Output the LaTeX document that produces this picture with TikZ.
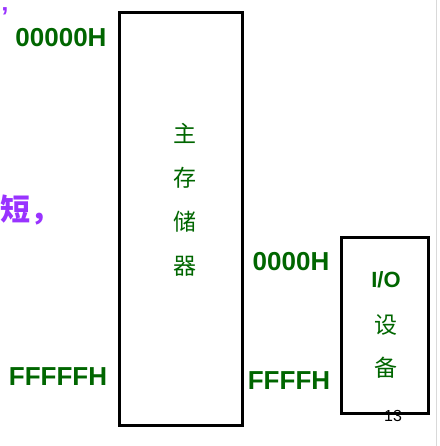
\documentclass[tikz,border=0pt]{standalone}
\usepackage{fontspec}
\setmainfont{Liberation Sans}
\newfontfamily\cjk{Noto Sans CJK SC}
\definecolor{dg}{HTML}{006600}
\definecolor{pu}{HTML}{9933FF}
\begin{document}
\begin{tikzpicture}[x=1pt,y=-1pt,
  box/.style={draw=black,line width=3pt},
  addr/.style={text=dg,font=\fontsize{26}{28}\selectfont\bfseries,inner sep=0pt},
  hz/.style={text=dg,font=\cjk\fontsize{23}{24}\selectfont,inner sep=0pt},
  pur/.style={text=pu,font=\cjk\fontsize{30}{32}\selectfont\bfseries,inner sep=0pt}]
\useasboundingbox (0,0) rectangle (439,446);
\fill[white] (0,0) rectangle (439,446);
\draw[gray!30,line width=1pt] (436,0) -- (436,446);
\draw[box] (119,13) rectangle (242,425);
\draw[box] (341,237) rectangle (428,413);
\node[addr] (a1) at (61,38) {00000H};
\node[addr] (a2) at (58,377) {FFFFFH};
\node[addr] (a3) at (291,262) {0000H};
\node[addr] (a4) at (289,381) {FFFFH};
\node[hz] (m1) at (185,133) {主};
\node[hz] (m2) at (185,178) {存};
\node[hz] (m3) at (185,222) {储};
\node[hz] (m4) at (185,266) {器};
\node[addr,font=\fontsize{22}{24}\selectfont\bfseries] (io) at (386,280) {I/O};
\node[hz] (i1) at (386,325) {设};
\node[hz] (i2) at (386,368) {备};
\node[pur] (p1) at (30,210) {短，};
\node[text=pu,font=\fontsize{26}{26}\selectfont\bfseries,inner sep=0pt,text height=10pt,text depth=0pt] (p0) at (5,21) {’};
\node[text=black,font=\fontsize{16}{17}\selectfont,inner sep=0pt] (pg) at (393,416) {13};
\end{tikzpicture}
\end{document}
